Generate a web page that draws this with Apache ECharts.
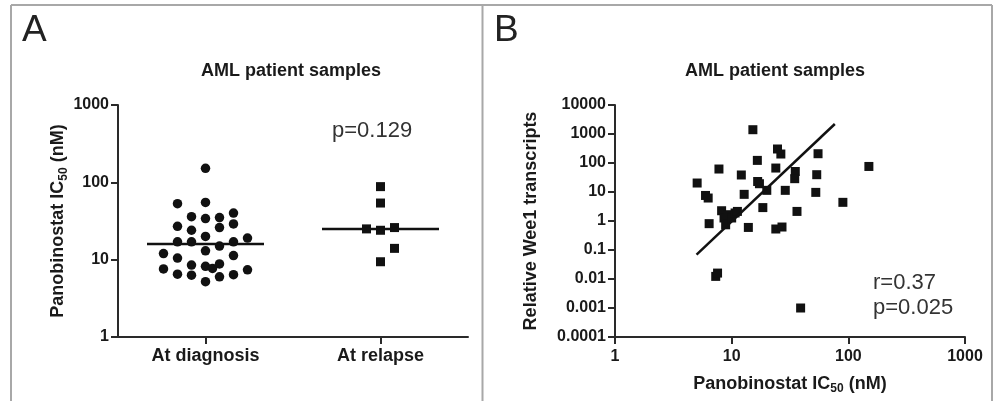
<!DOCTYPE html>
<html>
<head>
<meta charset="utf-8">
<script src="https://cdn.jsdelivr.net/npm/echarts@6/dist/echarts.min.js"></script>
<style>
html,body{margin:0;padding:0;background:#fff;}
#chart{width:995px;height:401px;}
</style>
</head>
<body>
<div id="chart"></div>
<script>
// ---------- Panel A data ----------
const catsA = ['At diagnosis', 'At relapse'];
const diagValues = [152, 53, 55, 27, 36, 34, 35, 40, 24, 26, 29, 17, 17, 20, 15, 17, 19, 12, 10.5, 13, 11.3, 7.6, 8.5, 8.2, 7.7, 8.8, 7.4, 6.5, 6.3, 6.0, 6.4, 5.2];
const diagCols   = [0, -2, 0, -2, -1, 0, 1, 2, -1, 1, 2, -2, -1, 0, 1, 2, 3, -3, -2, 0, 2, -3, -1, 0, 0.5, 1, 3, -2, -1, 1, 2, 0];
const relapseValues = [88, 54, 25, 24, 26, 14, 9.4];
const relapseCols   = [0, 0, -1, 0, 1, 1, 0];
const medians = [16, 25];
const yTicksA = ['1', '10', '100', '1000'];
const pTextA = 'p=0.129';

// ---------- Panel B data ----------
const icB  = [5.06, 5.97, 6.29, 6.41, 7.78, 7.3, 7.57, 8.2, 8.6, 8.88, 9.35, 10, 10.7, 11.2, 12.1, 12.8, 13.9, 15.2, 16.6, 16.7, 17.3, 18.5, 20, 23.9, 24.7, 26.4, 23.9, 27, 28.8, 35.1, 34.7, 36.3, 39, 55, 53.6, 52.6, 89.8, 150];
const weeB = [20.4, 7.6, 6.2, 0.81, 62, 0.0123, 0.016, 2.26, 1.27, 0.74, 1.65, 1.27, 1.89, 2.14, 38.6, 8.3, 0.6, 1406, 123, 23, 19.3, 2.9, 11.4, 67, 304, 204, 0.53, 0.62, 11.4, 51, 28.8, 2.14, 0.001, 209, 39.5, 9.7, 4.4, 76];
const fitX = [5.0, 76.6];
const fitY = [0.069, 2213];
const xTicksB = ['1', '10', '100', '1000'];
const yTicksB = ['0.0001', '0.001', '0.01', '0.1', '1', '10', '100', '1000', '10000'];
const statTextB = ['r=0.37', 'p=0.025'];
const titleText = 'AML patient samples';

const FONT = '"Liberation Sans", Arial, Helvetica, sans-serif';
const INK = '#111111';
const JIT = 14;

const chart = echarts.init(document.getElementById('chart'), null, {renderer: 'canvas'});

const expIdx = v => Math.round(Math.log10(v));

const icRich = {
  a: {fontFamily: FONT, fontSize: 18, fontWeight: 'bold', color: '#1a1a1a', lineHeight: 22},
  s: {fontFamily: FONT, fontSize: 12, fontWeight: 'bold', color: '#1a1a1a', lineHeight: 12, verticalAlign: 'bottom'}
};

const axisLine = {show: true, lineStyle: {color: '#2a2a2a', width: 2}};
const axisTick = {show: true, inside: false, length: 7, lineStyle: {color: '#2a2a2a', width: 2}};
const tickLabel = {show: true, fontFamily: FONT, fontSize: 16, fontWeight: 'bold', color: '#1a1a1a'};

const option = {
  backgroundColor: '#ffffff',
  animation: false,
  grid: [
    {left: 118, top: 105, width: 350, height: 232},
    {left: 615, top: 105, width: 350, height: 232}
  ],
  xAxis: [
    {
      gridIndex: 0, type: 'category', data: catsA, boundaryGap: true,
      axisLine: axisLine,
      axisTick: Object.assign({alignWithLabel: true}, axisTick),
      axisLabel: {fontFamily: FONT, fontSize: 18, fontWeight: 'bold', color: '#1a1a1a', margin: 10},
      splitLine: {show: false}
    },
    {
      gridIndex: 1, type: 'log', logBase: 10, min: 1, max: 1000, interval: 1,
      axisLine: axisLine, axisTick: axisTick,
      axisLabel: Object.assign({margin: 12, formatter: v => xTicksB[expIdx(v)]}, tickLabel),
      splitLine: {show: false},
      name: '{a|Panobinostat IC}{s|50}{a| (nM)}',
      nameLocation: 'middle', nameGap: 36,
      nameTextStyle: {rich: icRich}
    }
  ],
  yAxis: [
    {
      gridIndex: 0, type: 'log', logBase: 10, min: 1, max: 1000, interval: 1,
      axisLine: axisLine, axisTick: axisTick,
      axisLabel: Object.assign({margin: 9, formatter: v => yTicksA[expIdx(v)]}, tickLabel),
      splitLine: {show: false},
      name: '{a|Panobinostat IC}{s|50}{a| (nM)}',
      nameLocation: 'middle', nameGap: 46, nameRotate: 90,
      nameTextStyle: {rich: icRich}
    },
    {
      gridIndex: 1, type: 'log', logBase: 10, min: 0.0001, max: 10000, interval: 1,
      axisLine: axisLine, axisTick: axisTick,
      axisLabel: Object.assign({margin: 9, formatter: v => yTicksB[expIdx(v) + 4]}, tickLabel),
      splitLine: {show: false},
      name: 'Relative Wee1 transcripts',
      nameLocation: 'middle', nameGap: 75, nameRotate: 90,
      nameTextStyle: {fontFamily: FONT, fontSize: 18, fontWeight: 'bold', color: '#1a1a1a'}
    }
  ],
  series: [
    {
      type: 'scatter', xAxisIndex: 0, yAxisIndex: 0,
      symbol: 'circle', symbolSize: 9.5,
      itemStyle: {color: INK, opacity: 1},
      data: diagValues.map((v, i) => ({value: [0, v], symbolOffset: [diagCols[i] * JIT, 0]}))
    },
    {
      type: 'scatter', xAxisIndex: 0, yAxisIndex: 0,
      symbol: 'rect', symbolSize: 9,
      itemStyle: {color: INK, opacity: 1},
      data: relapseValues.map((v, i) => ({value: [1, v], symbolOffset: [relapseCols[i] * JIT, 0]}))
    },
    {
      type: 'scatter', xAxisIndex: 0, yAxisIndex: 0,
      symbol: 'rect', symbolSize: [117, 2.5],
      itemStyle: {color: INK, opacity: 1},
      z: 3,
      data: medians.map((m, i) => [i, m])
    },
    {
      type: 'scatter', xAxisIndex: 1, yAxisIndex: 1,
      symbol: 'rect', symbolSize: 9,
      itemStyle: {color: INK, opacity: 1},
      data: icB.map((x, i) => [x, weeB[i]])
    },
    {
      type: 'line', xAxisIndex: 1, yAxisIndex: 1,
      showSymbol: false, symbol: 'none',
      lineStyle: {color: INK, width: 2.5},
      data: fitX.map((x, i) => [x, fitY[i]])
    }
  ],
  graphic: [
    // panel frames
    {type: 'line', shape: {x1: 11, y1: 5, x2: 992, y2: 5}, style: {stroke: '#a8a8a8', lineWidth: 2}, silent: true},
    {type: 'line', shape: {x1: 11, y1: 5, x2: 11, y2: 401}, style: {stroke: '#a8a8a8', lineWidth: 2}, silent: true},
    {type: 'line', shape: {x1: 482.5, y1: 5, x2: 482.5, y2: 401}, style: {stroke: '#a8a8a8', lineWidth: 2}, silent: true},
    {type: 'line', shape: {x1: 992, y1: 5, x2: 992, y2: 401}, style: {stroke: '#a8a8a8', lineWidth: 2}, silent: true},
    // panel letters
    {type: 'text', left: 22, top: 12, style: {text: 'A', font: '37px ' + FONT, fill: '#222'}},
    {type: 'text', left: 494, top: 12, style: {text: 'B', font: '37px ' + FONT, fill: '#222'}},
    // titles
    {type: 'text', x: 291, y: 71, style: {text: titleText, font: 'bold 18px ' + FONT, fill: '#1a1a1a', align: 'center', verticalAlign: 'middle'}},
    {type: 'text', x: 775, y: 71, style: {text: titleText, font: 'bold 18px ' + FONT, fill: '#1a1a1a', align: 'center', verticalAlign: 'middle'}},
    // annotations
    {type: 'text', x: 332, y: 131, style: {text: pTextA, font: '22px ' + FONT, fill: '#333', align: 'left', verticalAlign: 'middle'}},
    {type: 'text', x: 873, y: 283, style: {text: statTextB[0], font: '22px ' + FONT, fill: '#333', align: 'left', verticalAlign: 'middle'}},
    {type: 'text', x: 873, y: 308, style: {text: statTextB[1], font: '22px ' + FONT, fill: '#333', align: 'left', verticalAlign: 'middle'}}
  ]
};

chart.setOption(option);
</script>
</body>
</html>
